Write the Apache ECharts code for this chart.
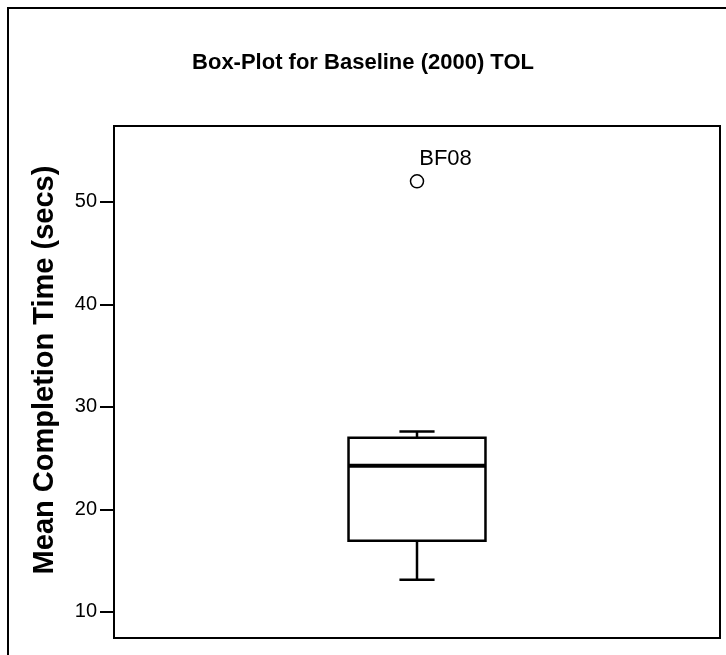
<!DOCTYPE html>
<html>
<head>
<meta charset="utf-8">
<script src="https://cdn.jsdelivr.net/npm/echarts@6/dist/echarts.min.js"></script>
<style>
html,body{margin:0;padding:0;background:#fff;}
#main{width:726px;height:655px;}
</style>
</head>
<body>
<div id="main"></div>
<script>
// ---- data ----
const categories = [''];
const boxStats = [[0, 13.15, 16.95, 24.25, 27.0, 27.6]]; // [cat, min, Q1, median, Q3, max]
const outliers = [[0, 52.0, 'BF08']];
const yTicks = [10, 20, 30, 40, 50];
const titleText = 'Box-Plot for Baseline (2000) TOL';
const yName = 'Mean Completion Time (secs)';

const chart = echarts.init(document.getElementById('main'));
const FONT = 'Liberation Sans, Arial, sans-serif';

chart.setOption({
  animation: false,
  backgroundColor: '#fff',
  title: {
    text: titleText,
    left: 'center',
    top: 47,
    textStyle: { fontFamily: FONT, fontSize: 22, fontWeight: 'bold', color: '#000' }
  },
  graphic: [{
    type: 'rect',
    shape: { x: 8, y: 8, width: 800, height: 700 },
    style: { fill: 'none', stroke: '#000', lineWidth: 2 },
    silent: true
  }],
  grid: {
    left: 114, right: 6, top: 126, bottom: 17,
    show: true, borderColor: '#000', borderWidth: 2, backgroundColor: 'transparent'
  },
  xAxis: {
    type: 'category',
    data: categories,
    axisLine: { lineStyle: { color: '#000', width: 2 } },
    axisTick: { alignWithLabel: true, length: 14, lineStyle: { color: '#000', width: 2 } },
    axisLabel: { show: false },
    splitLine: { show: false }
  },
  yAxis: {
    type: 'value',
    min: 7.46, max: 57.4,
    name: yName,
    nameLocation: 'middle',
    nameGap: 55,
    nameTextStyle: { fontFamily: FONT, fontSize: 29, fontWeight: 'bold', color: '#000', padding: [0, 0, 0, 24] },
    axisLine: { show: true, lineStyle: { color: '#000', width: 2 } },
    axisTick: { show: true, length: 14, customValues: yTicks, lineStyle: { color: '#000', width: 2 } },
    axisLabel: { customValues: yTicks, margin: 17, fontFamily: FONT, fontSize: 20, color: '#000' },
    splitLine: { show: false }
  },
  series: [{
    type: 'custom',
    data: boxStats,
    renderItem: function (params, api) {
      const x = api.value(0);
      const lo = api.coord([x, api.value(1)]);
      const q1 = api.coord([x, api.value(2)]);
      const md = api.coord([x, api.value(3)]);
      const q3 = api.coord([x, api.value(4)]);
      const hi = api.coord([x, api.value(5)]);
      const band = api.size([1, 0])[0];
      const hw = band * 0.113;
      const cw = band * 0.029;
      const cx = lo[0];
      const st = { stroke: '#000', lineWidth: 2.5, fill: 'none' };
      return {
        type: 'group',
        children: [
          { type: 'line', shape: { x1: cx, y1: hi[1], x2: cx, y2: q3[1] }, style: st },
          { type: 'line', shape: { x1: cx - cw, y1: hi[1], x2: cx + cw, y2: hi[1] }, style: st },
          { type: 'line', shape: { x1: cx, y1: lo[1], x2: cx, y2: q1[1] }, style: st },
          { type: 'line', shape: { x1: cx - cw, y1: lo[1], x2: cx + cw, y2: lo[1] }, style: st },
          { type: 'rect', shape: { x: cx - hw, y: q3[1], width: 2 * hw, height: q1[1] - q3[1] }, style: { stroke: '#000', lineWidth: 2.5, fill: '#fff' } },
          { type: 'line', shape: { x1: cx - hw, y1: md[1], x2: cx + hw, y2: md[1] }, style: { stroke: '#000', lineWidth: 4 } }
        ]
      };
    }
  }, {
    type: 'scatter',
    data: outliers,
    symbol: 'circle',
    symbolSize: 13,
    itemStyle: { color: '#fff', borderColor: '#000', borderWidth: 1.5, opacity: 1 },
    label: {
      show: true,
      position: 'right',
      offset: [-10, -22],
      formatter: function (p) { return p.data[2]; },
      fontFamily: FONT, fontSize: 22, color: '#000', opacity: 1
    }
  }]
});
</script>
</body>
</html>
